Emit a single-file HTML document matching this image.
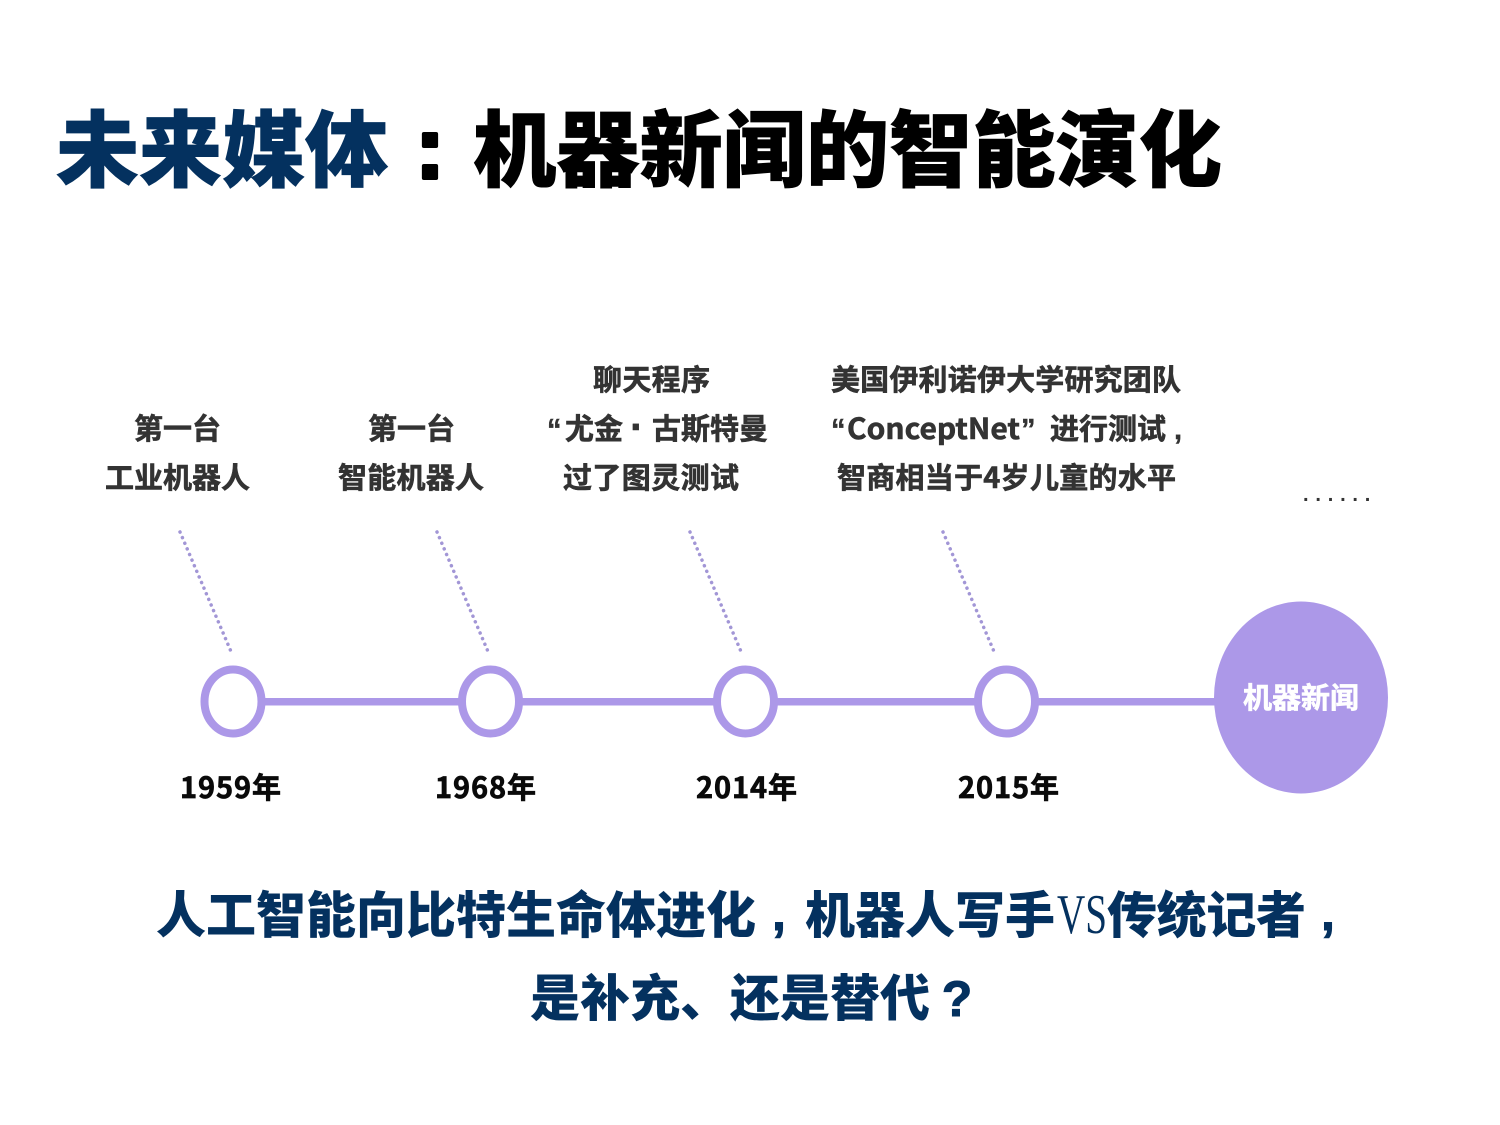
<!DOCTYPE html>
<html lang="zh-CN"><head><meta charset="utf-8"><title>未来媒体</title>
<style>
html,body{margin:0;padding:0;background:#fff;width:1500px;height:1125px;overflow:hidden}
svg{display:block}
text{font-family:"Liberation Sans","Noto Sans CJK SC",sans-serif;font-weight:700;white-space:pre}
.t{font-family:"Noto Sans CJK SC",sans-serif;font-weight:900;font-size:83px;stroke-width:.8px}
.l{font-family:"Noto Sans CJK SC","Liberation Sans",sans-serif;font-size:29px;fill:#333;stroke:#333;stroke-width:.6px}
.q{font-family:"Liberation Sans",sans-serif;font-size:29px;fill:#333;stroke:#333;stroke-width:.4px}
.y{font-family:"Noto Sans CJK SC","Liberation Sans",sans-serif;font-size:29px;fill:#0a0a0a;stroke:#0a0a0a;stroke-width:.7px}
.b{font-family:"Noto Sans CJK SC",sans-serif;font-size:50px;fill:#04315f;font-weight:900}
.p{font-family:"Liberation Sans",sans-serif;font-size:50px;fill:#04315f;stroke:#04315f;stroke-width:1px}
</style></head><body>
<svg width="1500" height="1125" viewBox="0 0 1500 1125" xmlns="http://www.w3.org/2000/svg">
<rect width="1500" height="1125" fill="#fff"/>
<text class="t" x="56" y="180" fill="#04315f" stroke="#04315f" textLength="332" lengthAdjust="spacingAndGlyphs">未来媒体</text>
<text x="430" y="178" text-anchor="middle" fill="#000" stroke="#000" stroke-width="4" stroke-linejoin="round" style="font-size:87px">:</text>
<text class="t" x="473" y="180" fill="#000" stroke="#000" textLength="749" lengthAdjust="spacingAndGlyphs">机器新闻的智能演化</text>

<g stroke="#ac98e8" stroke-width="7.5" fill="none">
<line x1="262" y1="701.800" x2="460" y2="701.800"/>
<line x1="520" y1="701.800" x2="716" y2="701.800"/>
<line x1="775" y1="701.800" x2="975" y2="701.800"/>
<line x1="1036" y1="701.800" x2="1220" y2="701.800"/>
</g>
<g stroke="#ac98e8" stroke-width="8" fill="#fff">
<ellipse cx="233" cy="701.500" rx="28.500" ry="32"/>
<ellipse cx="490.500" cy="701.500" rx="28.500" ry="32"/>
<ellipse cx="745.500" cy="701.500" rx="28.500" ry="32"/>
<ellipse cx="1006.500" cy="701.500" rx="28.500" ry="32"/>
</g>
<ellipse cx="1301" cy="697.500" rx="87" ry="96" fill="#ac98e8"/>
<text x="1243" y="708" fill="#fff" stroke="#fff" stroke-width=".6" style="font-family:'Noto Sans CJK SC',sans-serif;font-size:29px" textLength="116" lengthAdjust="spacingAndGlyphs">机器新闻</text>

<g stroke="#a296d6" stroke-width="3.5" stroke-dasharray="0.1 6" stroke-linecap="round" fill="none">
<line x1="180" y1="532" x2="232.500" y2="655"/>
<line x1="437" y1="532" x2="489.500" y2="655"/>
<line x1="690" y1="532" x2="742.500" y2="655"/>
<line x1="943" y1="532" x2="995.500" y2="655"/>
</g>

<text class="l" x="134" y="439" textLength="87">第一台</text>
<text class="l" x="105" y="488" textLength="145">工业机器人</text>
<text class="l" x="368" y="439" textLength="87">第一台</text>
<text class="l" x="338" y="488" textLength="146">智能机器人</text>
<text class="l" x="593" y="390" textLength="117">聊天程序</text>
<text class="q" x="547" y="439">“</text>
<text class="l" x="565" y="439" textLength="58">尤金</text>
<text class="q" x="637" y="441" text-anchor="middle" style="font-size:42px">·</text>
<text class="l" x="652" y="439" textLength="116">古斯特曼</text>
<text class="l" x="563" y="488" textLength="176">过了图灵测试</text>
<text class="l" x="831" y="390" textLength="350">美国伊利诺伊大学研究团队</text>
<text class="q" x="831" y="439">“</text>
<text class="l" x="847" y="439" textLength="173" lengthAdjust="spacingAndGlyphs">ConceptNet</text>
<text class="q" x="1021" y="439">”</text>
<text class="l" x="1050" y="439" textLength="116">进行测试</text>
<text class="q" x="1174" y="439">,</text>
<text class="l" x="837" y="488" textLength="339">智商相当于4岁儿童的水平</text>
<text x="1303" y="501" style="font-size:20px;fill:#333;letter-spacing:6.8px">......</text>

<text class="y" x="180" y="798" textLength="101">1959年</text>
<text class="y" x="435" y="798" textLength="101">1968年</text>
<text class="y" x="696" y="798" textLength="101">2014年</text>
<text class="y" x="958" y="798" textLength="101">2015年</text>

<text class="b" x="156" y="933" textLength="600">人工智能向比特生命体进化</text>
<text class="p" x="772" y="930">,</text>
<text class="b" x="805" y="933" textLength="250">机器人写手</text>
<text x="1057" y="933" fill="#04315f" textLength="50" lengthAdjust="spacingAndGlyphs" style="font-family:'Liberation Serif',serif;font-weight:400;font-size:56px">VS</text>
<text class="b" x="1107" y="933" textLength="199">传统记者</text>
<text class="p" x="1321" y="930">,</text>
<text class="b" x="530" y="1016" textLength="150">是补充</text>
<text class="b" x="680" y="1016">、</text>
<text class="b" x="730" y="1016" textLength="200">还是替代</text>
<text class="p" x="957" y="1016" text-anchor="middle">?</text>
</svg>
</body></html>
